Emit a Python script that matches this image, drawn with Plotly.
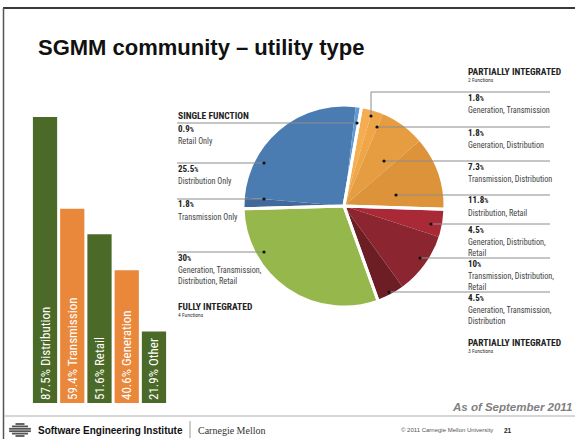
import plotly.graph_objects as go

W, H = 575, 439

# ---------------- data ----------------
bar_categories = ["Distribution", "Transmission", "Retail", "Generation", "Other"]
bar_values = [87.5, 59.4, 51.6, 40.6, 21.9]

# pie slices, clockwise starting near 12 o'clock
slice_values = [1.8, 1.8, 7.3, 11.8, 4.5, 10, 4.5, 30, 1.8, 25.5, 0.9]
slice_labels = [
    "Generation, Transmission",
    "Generation, Distribution",
    "Transmission, Distribution",
    "Distribution, Retail",
    "Generation, Distribution,<br>Retail",
    "Transmission, Distribution,<br>Retail",
    "Generation, Transmission,<br>Distribution",
    "Generation, Transmission,<br>Distribution, Retail",
    "Transmission Only",
    "Distribution Only",
    "Retail Only",
]
slice_group = [0, 0, 0, 0, 1, 1, 1, 2, 3, 3, 3]
group_names = ["PARTIALLY INTEGRATED", "PARTIALLY INTEGRATED", "FULLY INTEGRATED", "SINGLE FUNCTION"]
group_subtitles = ["2 Functions", "3 Functions", "4 Functions", ""]

title_text = "SGMM community – utility type"
date_text = "As of September 2011"
footer_org = "Software Engineering Institute"
footer_univ = "Carnegie Mellon"
footer_copy = "© 2011 Carnegie Mellon University"
page_num = "21"

# ---------------- styles ----------------
GREEN = "#4b6a27"
ORANGE = "#e9873a"
bar_colors = [GREEN, ORANGE, GREEN, ORANGE, GREEN]
slice_colors = ["#f5ad52", "#efa649", "#e69d42", "#dc9339",
                "#a92a36", "#8b2630", "#6d1e25",
                "#96b74b",
                "#41699a", "#4b7cb1", "#6199d2"]
NARROW = "Liberation Sans Narrow, Arial Narrow, Roboto Condensed, sans-serif"
SANS = "Liberation Sans, Arial, sans-serif"
LABEL_COLOR = "#444444"
LEADER_COLOR = "#8c8c8c"


def X(px):
    return px / W


def Y(py):
    return 1 - py / H


group_values = [sum(v for v, g in zip(slice_values, slice_group) if g == k) for k in range(len(group_names))]

fig = go.Figure()

# ---------------- bars ----------------
fig.add_trace(go.Bar(
    x=bar_categories, y=bar_values,
    marker=dict(color=bar_colors, line=dict(width=0)),
    texttemplate="%{y:.1f}% %{x}",
    textposition="inside", insidetextanchor="start", textangle=-90,
    insidetextfont=dict(family=NARROW, size=13, color="white"),
    hoverinfo="skip", showlegend=False,
    xaxis="x", yaxis="y",
))

# ---------------- pies ----------------
pie_domain = dict(x=[X(243), X(445)], y=[Y(307), Y(105)])
fig.add_trace(go.Pie(
    values=slice_values, labels=[l.replace("<br>", " ") for l in slice_labels],
    sort=False, direction="clockwise", rotation=10,
    marker=dict(colors=slice_colors, line=dict(width=0)),
    textinfo="none", hoverinfo="label+value", showlegend=False,
    domain=pie_domain,
))
fig.add_trace(go.Pie(
    values=group_values, labels=[f"{n} {i}" for i, n in enumerate(group_names)],
    sort=False, direction="clockwise", rotation=10,
    marker=dict(colors=["rgba(0,0,0,0)"] * len(group_values), line=dict(width=3, color="white")),
    textinfo="none", hoverinfo="skip", showlegend=False,
    domain=pie_domain,
))

shapes = []
annotations = []


def text(x, y, s, size, color=LABEL_COLOR, family=NARROW, xanchor="left", yanchor="middle"):
    annotations.append(dict(
        x=X(x), y=Y(y), xref="paper", yref="paper", text=s, showarrow=False,
        xanchor=xanchor, yanchor=yanchor, align="left",
        font=dict(family=family, size=size, color=color), borderpad=0,
    ))


def line(x0, y0, x1, y1, color=LEADER_COLOR, width=1):
    shapes.append(dict(type="line", xref="paper", yref="paper",
                       x0=X(x0), y0=Y(y0), x1=X(x1), y1=Y(y1),
                       line=dict(color=color, width=width)))


def dot(x, y, r=1.6):
    shapes.append(dict(type="circle", xref="paper", yref="paper",
                       x0=X(x - r), x1=X(x + r), y0=Y(y - r), y1=Y(y + r),
                       fillcolor="#111111", line=dict(width=0)))


def pct(v):
    return f"<b>{v:g}<span style='font-size:6.5px'>%</span></b>"


def label_block(x, line_y, idx):
    text(x, line_y + 5.5, pct(slice_values[idx]), 9, color="#222222")
    text(x, line_y + 11.6, slice_labels[idx], 8.2, yanchor="top")


# label anchor layout: slice index -> (line y, dot x, dot y)
RIGHT_TEXT_X, RIGHT_LINE_END = 467, 550
LEFT_TEXT_X = 177
right_anchor = {0: (92, 371, 116), 1: (127, 377, 127), 2: (161, 384, 161), 3: (195, 396, 195),
                4: (224, 431, 224), 5: (258, 420, 258), 6: (292, 389, 292)}
left_anchor = {10: (123, 357, 123), 9: (163, 264, 163), 8: (199, 264, 199), 7: (252, 264, 252)}

for idx, (ly, dx, dy) in right_anchor.items():
    if dy != ly:
        line(dx, dy, dx, ly)
    line(dx, ly, RIGHT_LINE_END, ly)
    dot(dx, dy)
    label_block(RIGHT_TEXT_X, ly, idx)

for idx, (ly, dx, dy) in left_anchor.items():
    line(LEFT_TEXT_X, ly, dx, ly)
    dot(dx, dy)
    label_block(LEFT_TEXT_X, ly, idx)

# group headers
text(RIGHT_TEXT_X, 71.5, f"<b>{group_names[0]}</b>", 9.5, color="#222222")
text(RIGHT_TEXT_X, 79.5, group_subtitles[0], 5.5, color="#333333")
text(RIGHT_TEXT_X, 342, f"<b>{group_names[1]}</b>", 9.5, color="#222222")
text(RIGHT_TEXT_X, 350.5, group_subtitles[1], 5.5, color="#333333")
text(LEFT_TEXT_X, 306, f"<b>{group_names[2]}</b>", 9.5, color="#222222")
text(LEFT_TEXT_X, 314.5, group_subtitles[2], 5.5, color="#333333")
text(LEFT_TEXT_X, 115, f"<b>{group_names[3]}</b>", 9.5, color="#222222")

# ---------------- slide chrome ----------------
line(3, 8, 575, 8, color="#3a3a3a", width=2)
line(3.5, 8, 3.5, 439, color="#555555", width=1.5)
line(4, 416, 575, 416, color="#c8c8c8", width=1.5)
line(190, 421, 190, 438, color="#999999", width=1)

# logo: striped globe
logo_cx, logo_cy, logo_r = 20, 430, 7.5
for k, (dy, ext) in enumerate([(-6, 0), (-3.6, 1.5), (-1.2, 3.5), (1.2, 3.5), (3.6, 1.5), (6, 0)]):
    half = (logo_r ** 2 - dy ** 2) ** 0.5 + ext
    line(logo_cx - half, logo_cy + dy, logo_cx + half, logo_cy + dy, color="#555555", width=1.8)

text(37, 47, f"<b>{title_text}</b>", 22, color="#111111", family=SANS)
text(573, 407, f"<b><i>{date_text}</i></b>", 11.5, color="#808080", family=SANS, xanchor="right")
text(37, 430, f"<b>{footer_org}</b>", 10, color="#111111", family=SANS)
text(197, 430, footer_univ, 10, color="#333333", family="Liberation Serif, DejaVu Serif, serif")
text(400, 430, footer_copy, 6, color="#555555", family=SANS)
text(503, 430.5, f"<b>{page_num}</b>", 6.5, color="#222222", family=SANS)

fig.update_layout(
    width=W, height=H, margin=dict(l=0, r=0, t=0, b=0),
    paper_bgcolor="white", plot_bgcolor="rgba(0,0,0,0)",
    showlegend=False, bargap=0.11,
    xaxis=dict(domain=[X(31.4), X(167.6)], visible=False, fixedrange=True),
    yaxis=dict(domain=[Y(403), 1 - 76 / H], range=[0, 100], visible=False, fixedrange=True),
    shapes=shapes, annotations=annotations,
)

fig.write_html("out.html")
